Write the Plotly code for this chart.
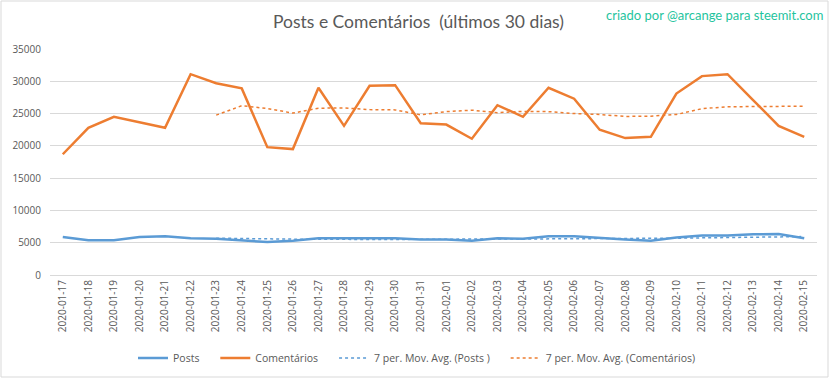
import pandas as pd
import plotly.graph_objects as go

dates = ["2020-01-17", "2020-01-18", "2020-01-19", "2020-01-20", "2020-01-21",
         "2020-01-22", "2020-01-23", "2020-01-24", "2020-01-25", "2020-01-26",
         "2020-01-27", "2020-01-28", "2020-01-29", "2020-01-30", "2020-01-31",
         "2020-02-01", "2020-02-02", "2020-02-03", "2020-02-04", "2020-02-05",
         "2020-02-06", "2020-02-07", "2020-02-08", "2020-02-09", "2020-02-10",
         "2020-02-11", "2020-02-12", "2020-02-13", "2020-02-14", "2020-02-15"]

posts = [5900, 5400, 5400, 5900, 6000, 5700, 5600, 5300, 5100, 5300,
         5700, 5700, 5700, 5700, 5500, 5500, 5300, 5700, 5600, 6000,
         6000, 5700, 5500, 5300, 5800, 6100, 6100, 6300, 6350, 5700]

comentarios = [18700, 22800, 24500, 23700, 22800, 31100, 29700, 28900, 19800, 19500,
               29000, 23100, 29300, 29400, 23500, 23300, 21100, 26300, 24500, 29000,
               27300, 22500, 21200, 21400, 28100, 30800, 31100, 27100, 23100, 21400]

y_ticks = [0, 5000, 10000, 15000, 20000, 25000, 30000, 35000]
y_tick_labels = ["0", "5000", "10000", "15000", "20000", "25000", "30000", "35000"]

series_names = ["Posts", "Comentários", "7 per. Mov. Avg. (Posts )",
                "7 per. Mov. Avg. (Comentários)"]

MA_PERIOD = 7
posts_ma = pd.Series(posts).rolling(MA_PERIOD).mean().tolist()
coment_ma = pd.Series(comentarios).rolling(MA_PERIOD).mean().tolist()

BLUE = "#5B9BD5"
ORANGE = "#ED7D31"
GRAY_TXT = "#595959"
GRID = "#D9D9D9"
FONT = "Open Sans"
PAD = "\u00a0" * 4  # extra spacing between legend entries

fig = go.Figure()
fig.add_trace(go.Scatter(x=dates, y=posts, mode="lines", name=series_names[0] + PAD,
                         line=dict(color=BLUE, width=2.5)))
fig.add_trace(go.Scatter(x=dates, y=comentarios, mode="lines", name=series_names[1] + PAD,
                         line=dict(color=ORANGE, width=2.5)))
fig.add_trace(go.Scatter(x=dates, y=posts_ma, mode="lines", name=series_names[2] + PAD,
                         line=dict(color=BLUE, width=1.5, dash="dot")))
fig.add_trace(go.Scatter(x=dates, y=coment_ma, mode="lines", name=series_names[3],
                         line=dict(color=ORANGE, width=1.5, dash="dot")))

W, H = 832, 378
L, R, T, B = 50, 15, 49, 103
pw = W - L - R
ph = H - T - B

def px_x(px):
    return (px - L) / pw

def px_y(py):
    return (H - B - py) / ph

fig.update_layout(
    width=W, height=H,
    margin=dict(l=L, r=R, t=T, b=B, autoexpand=False),
    paper_bgcolor="white", plot_bgcolor="white",
    font=dict(family=FONT, color=GRAY_TXT, size=10),
    title=dict(text="Posts e Comentários \u00a0(últimos 30 dias)",
               x=418.5 / W, xref="container", xanchor="center",
               y=1 - 22 / H, yref="container", yanchor="middle",
               font=dict(family="Lato", size=17.5, color=GRAY_TXT)),
    showlegend=True,
    legend=dict(orientation="h", x=px_x(417), xanchor="center", xref="paper",
                y=px_y(358), yanchor="middle", yref="paper",
                font=dict(family=FONT, size=10.5, color=GRAY_TXT),
                tracegroupgap=0, bgcolor="rgba(0,0,0,0)"),
    xaxis=dict(type="category", tickangle=-90, showgrid=False, showline=True,
               linecolor=GRID, linewidth=1, ticks="", zeroline=False,
               range=[-0.5, len(dates) - 0.5],
               tickmode="array", tickvals=dates, ticktext=dates,
               tickfont=dict(family=FONT, size=10, color=GRAY_TXT)),
    yaxis=dict(range=[0, 35000], tickmode="array", tickvals=y_ticks, ticktext=y_tick_labels,
               showgrid=True, gridcolor=GRID,
               gridwidth=1, zeroline=False, showline=False, ticks="",
               ticklabelstandoff=8,
               tickfont=dict(family=FONT, size=10, color=GRAY_TXT)),
    annotations=[dict(text="criado por @arcange para steemit.com",
                      xref="paper", yref="paper", x=px_x(714.5), y=px_y(15),
                      xanchor="center", yanchor="middle", showarrow=False,
                      font=dict(family="Lato", size=13, color="#1FC49E"))],
    shapes=[dict(type="rect", xref="paper", yref="paper",
                 x0=px_x(1), x1=px_x(828), y0=px_y(377), y1=px_y(1),
                 line=dict(color=GRID, width=1), fillcolor="rgba(0,0,0,0)", layer="below")],
)

fig.write_html("out.html", config={"displayModeBar": False},
               post_script="document.body.style.margin='0';document.body.style.overflow='hidden';")
